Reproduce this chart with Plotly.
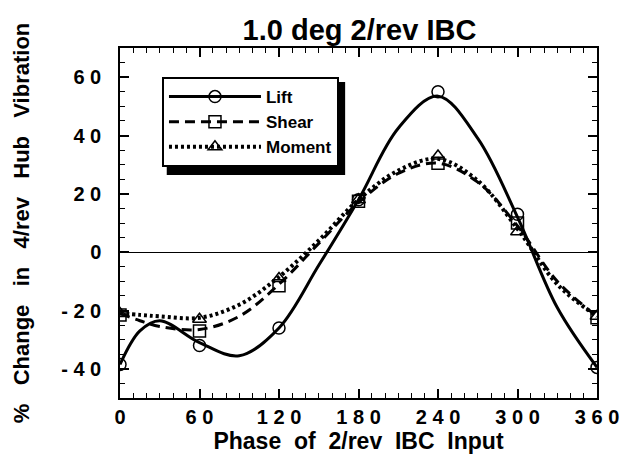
import plotly.graph_objects as go

# measured points (every 60 deg)
phase = [0, 60, 120, 180, 240, 300, 360]
lift = [-38.5, -32, -26, 18, 55, 13, -39.5]
shear = [-21.5, -27, -11.5, 17.5, 30.5, 10, -22.5]
moment = [-21, -23, -9, 18, 33, 7, -22]

# fitted curves
curve_phase = [0, 15, 30, 60, 90, 120, 150, 180, 210, 240, 270, 300, 330, 360]
lift_fit = [-38.5, -27, -23.5, -31, -35.5, -26, -4.5, 18, 42.5, 53.5, 39, 12, -19, -39.5]
shear_fit = [-21, -23.5, -25.5, -26.5, -22, -11, 3, 17, 27, 30.5, 24, 9, -10, -22]
moment_fit = [-21, -21.5, -22, -22.5, -18, -8.5, 4, 18, 28, 32, 24.5, 8, -11, -22]

xticks = [0, 60, 120, 180, 240, 300, 360]
xticktext = ["0", "6 0", "1 2 0", "1 8 0", "2 4 0", "3 0 0", "3 6 0"]
yticks = [-40, -20, 0, 20, 40, 60]
yticktext = ["- 4 0", "- 2 0", "0", "2 0", "4 0", "6 0"]

font = "Liberation Sans, Arial, sans-serif"
sp2 = "\u00a0\u00a0"
sp3 = "\u00a0\u00a0\u00a0"

series = [
    ("Lift", lift, lift_fit, "circle-open", "solid", 3),
    ("Shear", shear, shear_fit, "square-open", "10px,6px", 3),
    ("Moment", moment, moment_fit, "triangle-up-open", "3px,3px", 4),
]

fig = go.Figure()
for name, pts, fit, sym, dash, w in series:
    fig.add_trace(go.Scatter(x=curve_phase, y=fit, mode="lines", line_shape="spline",
                             line=dict(color="black", width=w, dash=dash),
                             showlegend=False, hoverinfo="skip"))
    fig.add_trace(go.Scatter(x=phase, y=pts, mode="markers", showlegend=False,
                             marker=dict(symbol=sym, size=12, color="black",
                                         line=dict(color="black", width=1.5))))
    # legend sample
    fig.add_trace(go.Scatter(x=[None], y=[None], mode="lines+markers", name=name,
                             line=dict(color="black", width=w, dash=dash),
                             marker=dict(symbol=sym, size=12, color="black",
                                         line=dict(color="black", width=1.5))))

axis_common = dict(showline=True, linecolor="black", linewidth=1.5, mirror="ticks",
                   ticks="inside", ticklen=9, tickwidth=1.5, tickcolor="black",
                   showgrid=False,
                   tickfont=dict(family=font, size=20, color="black", weight="bold"))

fig.update_xaxes(range=[0, 360], tickvals=xticks, ticktext=xticktext,
                 minor=dict(dtick=10, ticks="inside", ticklen=5, tickwidth=1, tickcolor="black"),
                 title=dict(text=sp2.join(["Phase", "of", "2/rev", "IBC", "Input"]), standoff=0,
                            font=dict(family=font, size=23, color="black", weight="bold")),
                 zeroline=False, **axis_common)
fig.update_yaxes(range=[-50, 70], tickvals=yticks, ticktext=yticktext,
                 ticklabelstandoff=13,
                 minor=dict(dtick=5, ticks="inside", ticklen=5, tickwidth=1, tickcolor="black"),
                 title=dict(text=sp3.join(["%", "Change", "in", "4/rev", "Hub", "Vibration"]),
                            standoff=26,
                            font=dict(family=font, size=22, color="black", weight="bold")),
                 zeroline=True, zerolinecolor="black", zerolinewidth=1, **axis_common)

# legend shadow (offset a few px down/right of the legend box)
fig.add_shape(type="rect", xref="paper", yref="paper",
              x0=0.098, x1=0.472, y0=0.637, y1=0.903,
              fillcolor="black", line=dict(width=0), layer="above")

fig.update_layout(
    width=623, height=465,
    margin=dict(l=120, r=26, t=48, b=67, autoexpand=False),
    paper_bgcolor="white", plot_bgcolor="white",
    title=dict(text="1.0 deg 2/rev IBC", x=0.577, xanchor="center",
               y=0.935, yanchor="middle",
               font=dict(family=font, size=29, color="black", weight="bold")),
    legend=dict(x=0.088, y=0.917, xanchor="left", yanchor="top",
                bgcolor="white", bordercolor="black", borderwidth=2,
                itemwidth=92, tracegroupgap=0,
                font=dict(family=font, size=17, color="black", weight="bold")),
)

fig.write_html("out.html", config={"displayModeBar": False},
               post_script="document.body.style.margin='0px';")
